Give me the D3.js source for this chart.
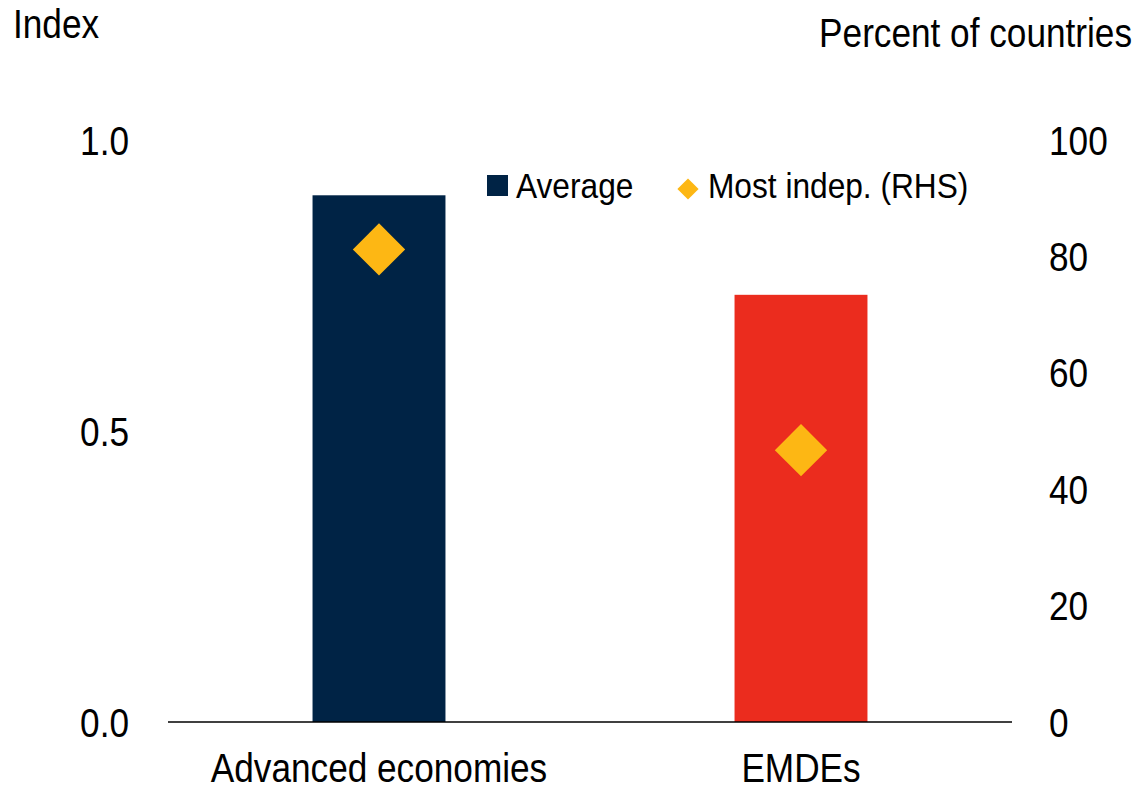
<!DOCTYPE html>
<html>
<head>
<meta charset="utf-8">
<script src="https://cdn.jsdelivr.net/npm/d3@7"></script>
<style>
  html, body { margin: 0; padding: 0; background: #fff; }
  svg { display: block; }
  text { font-family: "Liberation Sans", Arial, Helvetica, sans-serif; fill: #000; }
</style>
</head>
<body>
<svg id="chart" width="1140" height="791"></svg>
<script>
const categories = ["Advanced economies", "EMDEs"];
const averageValues = [0.905, 0.734];
const mostIndepValues = [81.2, 46.7];
const barColors = ["#002345", "#EB2C1E"];
const diamondColor = "#FDB714";
const leftTicks = [0.0, 0.5, 1.0];
const rightTicks = [0, 20, 40, 60, 80, 100];
const seriesNames = ["Average", "Most indep. (RHS)"];

const svg = d3.select("#chart");
const FS = 40, LFS = 36, SQUEEZE = 0.88;

const x = d3.scaleBand().domain(categories).range([168, 1012]).paddingInner(0.685).paddingOuter(0.3425);
const yL = d3.scaleLinear().domain([0, 1]).range([722, 140]);
const yR = d3.scaleLinear().domain([0, 100]).range([722, 140]);

// bars
svg.append("g").selectAll("rect").data(categories).join("rect")
  .attr("x", d => x(d))
  .attr("width", x.bandwidth())
  .attr("y", (d, i) => yL(averageValues[i]))
  .attr("height", (d, i) => yL(0) - yL(averageValues[i]))
  .attr("fill", (d, i) => barColors[i]);

// diamonds (RHS)
const diamond = d3.symbol().type(d3.symbolSquare).size(37 * 37);
svg.append("g").selectAll("path").data(categories).join("path")
  .attr("d", diamond)
  .attr("transform", (d, i) => `translate(${x(d) + x.bandwidth() / 2},${yR(mostIndepValues[i])}) rotate(45)`)
  .attr("fill", diamondColor);

// x axis baseline
svg.append("line").attr("x1", 168).attr("x2", 1012).attr("y1", yL(0)).attr("y2", yL(0))
  .attr("stroke", "#000").attr("stroke-width", 1.5);

// left axis
const gL = svg.append("g").attr("transform", "translate(129,0)")
  .call(d3.axisLeft(yL).tickValues(leftTicks).tickFormat(d3.format(".1f")).tickSize(0).tickPadding(0));
gL.select(".domain").remove();
gL.selectAll("text").style("font-size", FS + "px").attr("dy", "0.35em");

// right axis
const gR = svg.append("g").attr("transform", "translate(1049,0)")
  .call(d3.axisRight(yR).tickValues(rightTicks).tickFormat(d3.format("d")).tickSize(0).tickPadding(0));
gR.select(".domain").remove();
gR.selectAll("text").style("font-size", FS + "px").attr("dy", "0.35em");

// x axis labels
const gX = svg.append("g").attr("transform", `translate(0,${yL(0)})`)
  .call(d3.axisBottom(x).tickSize(0).tickPadding(0));
gX.select(".domain").remove();
gX.selectAll("text").style("font-size", FS + "px").attr("dy", null).attr("y", 60);

// axis titles
svg.append("text").attr("x", 13).attr("y", 38).style("font-size", FS + "px").text("Index");
svg.append("text").attr("x", 1132).attr("y", 47).attr("text-anchor", "end").style("font-size", FS + "px").text("Percent of countries");

// legend
const lg = svg.append("g");
lg.append("rect").attr("x", 487).attr("y", 175).attr("width", 21).attr("height", 21).attr("fill", barColors[0]);
lg.append("text").attr("x", 516).attr("y", 198).style("font-size", LFS + "px").text(seriesNames[0]);
lg.append("path").attr("d", d3.symbol().type(d3.symbolSquare).size(15 * 15))
  .attr("transform", "translate(688,189) rotate(45)").attr("fill", diamondColor);
lg.append("text").attr("x", 708).attr("y", 198).style("font-size", LFS + "px").text(seriesNames[1]);

// narrow the glyphs (around each text's own anchor) to match the condensed face of the original
svg.selectAll("text").each(function () {
  const ax = +(this.getAttribute("x") || 0);
  d3.select(this).attr("transform", `translate(${ax},0) scale(${SQUEEZE},1) translate(${-ax},0)`);
});
</script>
</body>
</html>
